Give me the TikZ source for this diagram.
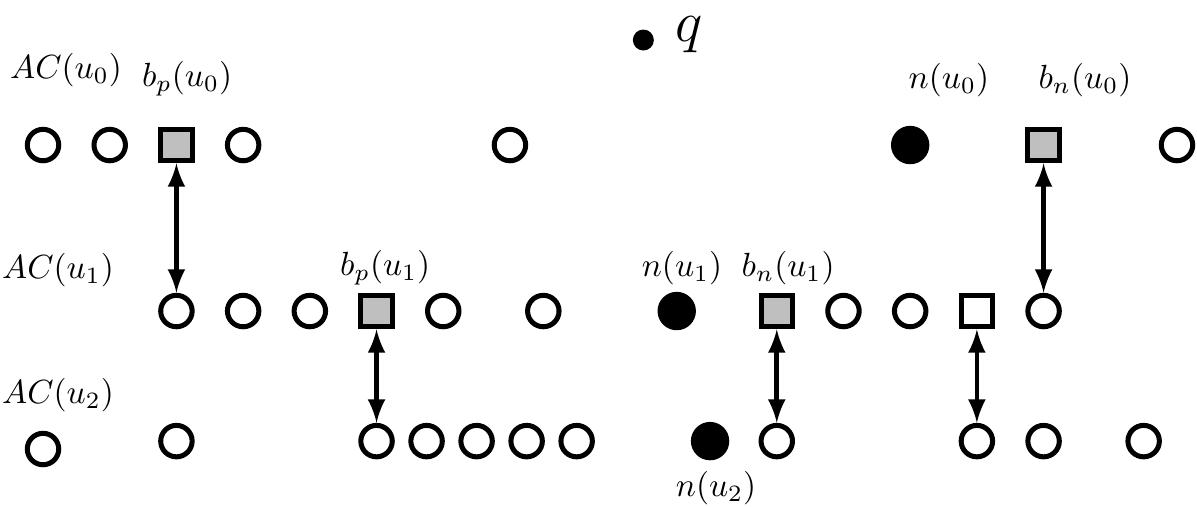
\documentclass[tikz,border=0pt]{standalone}
\usepackage{tikz}
\usetikzlibrary{arrows,shapes}
\tikzstyle{vertex}=[circle,draw,line width=1.5pt,minimum size=0.33cm,inner sep=0pt]
\tikzstyle{nvertex}=[circle,draw,line width=1.5pt,fill=black,minimum size=0.35cm,inner sep=0pt]
\tikzstyle{bvertex}=[rectangle,draw,line width=1.5pt,fill=black!25,minimum size=0.33cm,inner sep=0pt]
\tikzstyle{wvertex}=[rectangle,draw,line width=1.5pt,fill=white,minimum size=0.33cm,inner sep=0pt]
\tikzstyle{edge} = [draw,line width=1.4pt,<->,>=latex]
\tikzstyle{txt} = [inner sep=0pt]

\begin{document}
\begin{tikzpicture}[x=0.7cm, y=1cm]

    \useasboundingbox (-0.645,-3.789) rectangle (17.30,1.522);

    \def\ya{0};
    \def\yb{-1.742};
    \def\yc{-3.107};

    % AC(u_0)
    \foreach \x/\name in {0/a0, 1/a1, 3/a3, 7/a7, 17/a17}
        \node[vertex] (\name) at (\x, \ya) {};
    \node[bvertex] (bp0) at (2, \ya) {};
    \node[nvertex] (n0) at (13, \ya) {};
    \node[bvertex] (bn0) at (15, \ya) {};

    % AC(u_1)
    \foreach \x/\name in {2/b2, 3/b3, 4/b4, 6/b6, 7.5/b7, 12/b12, 13/b13, 15/b15}
        \node[vertex] (\name) at (\x, \yb) {};
    \node[bvertex] (bp1) at (5, \yb) {};
    \node[nvertex] (n1) at (9.5, \yb) {};
    \node[bvertex] (bn1) at (11, \yb) {};
    \node[wvertex] (w1) at (14, \yb) {};

    % AC(u_2)
    \node[vertex] (c0) at (0, -3.19) {};
    \foreach \x/\name in {2/c2, 5/c5, 5.75/c6, 6.5/c7, 7.25/c8, 8/c9, 11/c11, 14/c14, 15/c15, 16.5/c16}
        \node[vertex] (\name) at (\x, \yc) {};
    \node[nvertex] (n2) at (10, \yc) {};

    \foreach \source/ \dest in {bp0/b2, bp1/c5, bn1/c11, w1/c14, bn0/b15}
        \path[edge] (\source) -- (\dest);

    % q
    \node[circle, fill=black, minimum size=0.22cm, inner sep=0pt] (q) at (9, 1.102) {};
    \node[txt] (qname) at (9.685, 1.16) {\LARGE $q$};

    \node[txt] (ac0) at (0.345, 0.787) {$AC(u_0)$};
    \node[txt] (ac1) at (0.225, -1.312) {$AC(u_1)$};
    \node[txt] (ac2) at (0.225, -2.624) {$AC(u_2)$};

    \node[txt] (bp0name) at (2.16, 0.693) {$b_p(u_0)$};
    \node[txt] (n0name) at (13.58, 0.682) {$n(u_0)$};
    \node[txt] (bn0name) at (15.62, 0.682) {$b_n(u_0)$};

    \node[txt] (bp1name) at (5.13, -1.291) {$b_p(u_1)$};
    \node[txt] (n1name) at (9.58, -1.291) {$n(u_1)$};
    \node[txt] (bn1name) at (11.17, -1.291) {$b_n(u_1)$};

    \node[txt] (n2name) at (10.09, -3.60) {$n(u_2)$};

\end{tikzpicture}
\end{document}
